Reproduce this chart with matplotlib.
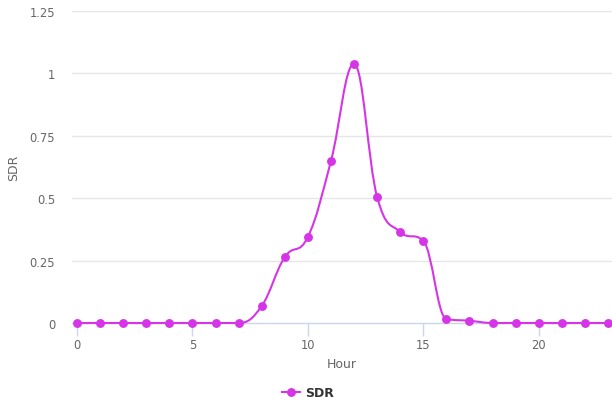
import matplotlib
matplotlib.use("Agg")
import matplotlib.pyplot as plt
from matplotlib.path import Path
from matplotlib.patches import PathPatch
from matplotlib.lines import Line2D

hours = list(range(24))
sdr = [0, 0, 0, 0, 0, 0, 0, 0, 0.068, 0.264, 0.345, 0.649, 1.038, 0.505,
       0.365, 0.329, 0.016, 0.009, 0, 0, 0, 0, 0, 0]
x_ticks = [0, 5, 10, 15, 20]
y_ticks = [0, 0.25, 0.5, 0.75, 1, 1.25]
y_tick_labels = ["0", "0.25", "0.5", "0.75", "1", "1.25"]

color = "#d535e6"


def spline_path(xs, ys, smoothing=1.5):
    denom = smoothing + 1
    n = len(xs)
    left = [None] * n
    right = [None] * n
    for i in range(n):
        px, py = xs[i], ys[i]
        if i == 0 or i == n - 1:
            left[i] = (px, py)
            right[i] = (px, py)
            continue
        lx, ly = xs[i - 1], ys[i - 1]
        nx, ny = xs[i + 1], ys[i + 1]
        lcx = (smoothing * px + lx) / denom
        lcy = (smoothing * py + ly) / denom
        rcx = (smoothing * px + nx) / denom
        rcy = (smoothing * py + ny) / denom
        if rcx != lcx:
            corr = ((rcy - lcy) * (rcx - px)) / (rcx - lcx) + py - rcy
            lcy += corr
            rcy += corr
        if lcy > ly and lcy > py:
            lcy = max(ly, py)
            rcy = 2 * py - lcy
        elif lcy < ly and lcy < py:
            lcy = min(ly, py)
            rcy = 2 * py - lcy
        if rcy > ny and rcy > py:
            rcy = max(ny, py)
            lcy = 2 * py - rcy
        elif rcy < ny and rcy < py:
            rcy = min(ny, py)
            lcy = 2 * py - rcy
        left[i] = (lcx, lcy)
        right[i] = (rcx, rcy)
    verts = [(xs[0], ys[0])]
    codes = [Path.MOVETO]
    for i in range(1, n):
        verts += [right[i - 1], left[i], (xs[i], ys[i])]
        codes += [Path.CURVE4] * 3
    return Path(verts, codes)


fig = plt.figure(figsize=(6.12, 4.06), dpi=100)
ax = fig.add_axes([72 / 612, (406 - 324) / 406, 1 - 72 / 612, (324 - 12) / 406])

ax.set_xlim(-5 / 23.09, 23 + 4 / 23.09)
ax.set_ylim(0, 1.25)

for yt in y_ticks[1:]:
    ax.axhline(yt, color="#e6e6e6", lw=1, zorder=0)

patch = PathPatch(spline_path(hours, sdr), facecolor="none", edgecolor=color,
                  lw=1.5, zorder=3, clip_on=False, capstyle="round", joinstyle="round")
ax.add_patch(patch)
ax.plot(hours, sdr, "o", color=color, ms=6.4, mew=0, zorder=4, clip_on=False)

for s in ["top", "right", "left"]:
    ax.spines[s].set_visible(False)
ax.spines["bottom"].set_color("#ccd6eb")
ax.spines["bottom"].set_linewidth(1)
ax.spines["bottom"].set_zorder(2)

ax.set_xticks(x_ticks)
ax.set_xticklabels([str(t) for t in x_ticks])
ax.tick_params(axis="x", length=9, width=1, color="#ccd6eb", labelsize=8.3,
               labelcolor="#666666", pad=2)
ax.set_yticks(y_ticks)
ax.set_yticklabels(y_tick_labels)
ax.tick_params(axis="y", length=0, labelsize=8.3, labelcolor="#666666", pad=12)

ax.set_xlabel("Hour", fontsize=9, color="#666666", labelpad=4)
ax.set_ylabel("SDR", fontsize=9, color="#666666", labelpad=7)

handle = Line2D([], [], color=color, lw=1.5, marker="o", ms=6.4, mew=0)
leg = fig.legend([handle], ["SDR"], loc="center", bbox_to_anchor=(308 / 612, 1 - 394 / 406),
                 frameon=False, handlelength=1.4, handletextpad=0.4,
                 prop={"size": 9, "weight": "bold"})
for t in leg.get_texts():
    t.set_color("#333333")

fig.savefig("out.png", dpi=100)
